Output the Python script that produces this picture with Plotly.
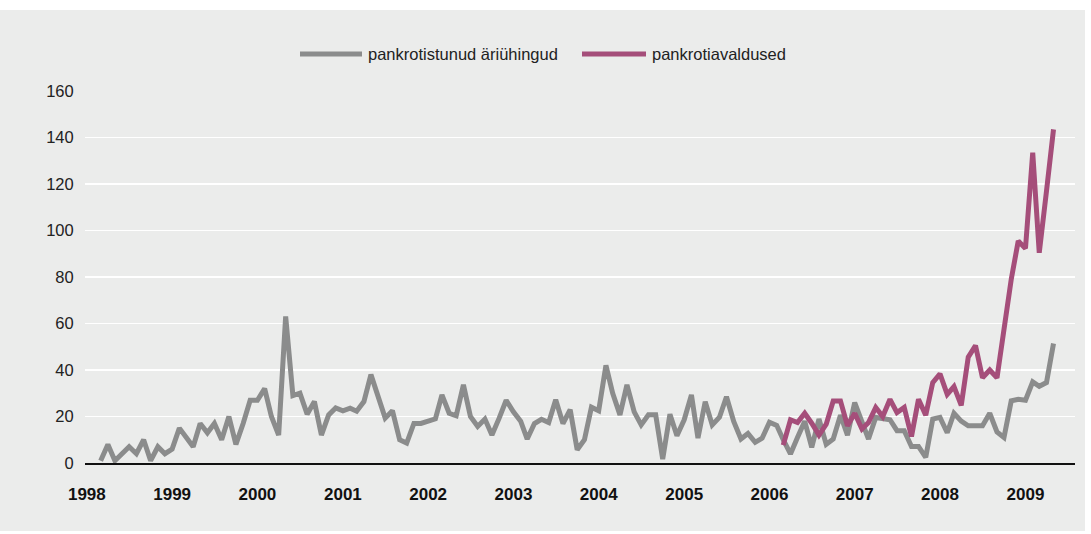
import pandas as pd
import plotly.graph_objects as go

# ---- data (monthly) ----
gray_start = "1998-03-01"
gray_values = [
    # 1998 Mar-Dec
    1, 8, 1, 4, 7, 4, 10, 1, 7, 4,
    # 1999
    6, 15, 11, 7, 17, 13, 17, 10, 20, 8, 17, 27,
    # 2000
    27, 32, 20, 12, 63, 29, 30, 21, 26.4, 12, 20.7, 23.7,
    # 2001
    22.4, 23.6, 22.3, 26.4, 38, 28, 19.3, 22.5, 10, 8.6, 17, 17,
    # 2002
    18, 19, 29.3, 21.4, 20.3, 33.6, 20, 15.7, 18.9, 12, 19.3, 27,
    # 2003
    22, 18, 10.3, 17, 18.8, 17.4, 27.2, 17, 22.9, 5.7, 10, 24,
    # 2004
    22.5, 42, 30, 20.7, 33.6, 22, 16.4, 20.7, 20.7, 1.7, 21, 11.7,
    # 2005
    18.6, 29.3, 10.7, 26.4, 16.4, 19.7, 28.5, 17.9, 10.3, 12.7, 8.9, 10.7,
    # 2006
    17.5, 16.2, 10, 3.9, 11, 18, 6.7, 18.9, 8, 10.3, 20.6, 12,
    # 2007
    26, 18, 10.3, 19.6, 19, 18.6, 13.9, 13.9, 7.1, 7.1, 2.4, 18.9,
    # 2008
    19.6, 13, 21.4, 18, 16, 16, 16, 21.4, 13.4, 11, 26.7, 27.4,
    # 2009 Jan-May
    27, 34.9, 33, 34.6, 51.4,
]

purple_start = "2006-03-01"
purple_values = [
    # 2006 Mar-Dec
    7.7, 18.6, 17.4, 21.4, 17.1, 12, 16.7, 26.7, 26.7, 16,
    # 2007
    21.4, 14.6, 17.4, 23.9, 20, 27.4, 21.7, 23.9, 11.4, 27.4, 20.6, 34.6,
    # 2008
    38.3, 29.5, 32.9, 24.8, 45.5, 50.5, 36.7, 40, 36.6, 57, 79, 95.5,
    # 2009 Jan-May
    92.3, 133.5, 90.4, 117, 143.5,
]

series_names = ["pankrotistunud äriühingud", "pankrotiavaldused"]
year_labels = [str(y) for y in range(1998, 2010)]
y_ticks = [0, 20, 40, 60, 80, 100, 120, 140, 160]

gray_x = pd.date_range(gray_start, periods=len(gray_values), freq="MS")
purple_x = pd.date_range(purple_start, periods=len(purple_values), freq="MS")

# ---- style ----
W, H = 1091, 534
L, R, T, B = 85, 16, 91, 71
GRAY = "#8b8c8c"
PURPLE = "#a54e7a"
BG = "#ebeceb"
FONT = "Liberation Sans, Arial, Helvetica, sans-serif"

pw, ph = W - L - R, H - T - B


def px_x(px):
    return (px - L) / pw


def px_y(py):
    return (H - B - py) / ph


fig = go.Figure()
fig.add_trace(go.Scatter(x=gray_x, y=gray_values, mode="lines", name=series_names[0],
                         line=dict(color=GRAY, width=5), showlegend=False))
fig.add_trace(go.Scatter(x=purple_x, y=purple_values, mode="lines", name=series_names[1],
                         line=dict(color=PURPLE, width=5), showlegend=False))

shapes = [
    dict(type="rect", xref="paper", yref="paper", x0=px_x(0), x1=px_x(1085),
         y0=px_y(531), y1=px_y(10), fillcolor=BG, line=dict(width=0), layer="below"),
    dict(type="line", xref="paper", yref="paper", x0=px_x(300), x1=px_x(362),
         y0=px_y(54), y1=px_y(54), line=dict(color=GRAY, width=5)),
    dict(type="line", xref="paper", yref="paper", x0=px_x(582), x1=px_x(646),
         y0=px_y(54), y1=px_y(54), line=dict(color=PURPLE, width=5)),
]
annotations = [
    dict(xref="paper", yref="paper", x=px_x(366), y=px_y(54), text=series_names[0],
         showarrow=False, xanchor="left", yanchor="middle",
         font=dict(family=FONT, size=16.5, color="#222222")),
    dict(xref="paper", yref="paper", x=px_x(650), y=px_y(54), text=series_names[1],
         showarrow=False, xanchor="left", yanchor="middle",
         font=dict(family=FONT, size=16.5, color="#222222")),
]

fig.update_layout(
    width=W, height=H,
    margin=dict(l=L, r=R, t=T, b=B),
    paper_bgcolor="white",
    plot_bgcolor="rgba(0,0,0,0)",
    font=dict(family=FONT, color="#222222"),
    shapes=shapes,
    annotations=annotations,
    showlegend=False,
    hovermode=False,
)
fig.update_xaxes(
    type="date",
    range=["1997-12-24", "2009-08-01"],
    tickvals=[f"{y}-01-01" for y in year_labels],
    ticktext=year_labels,
    tickfont=dict(family=FONT, size=17, color="#111111", weight="bold"),
    showgrid=False, zeroline=False,
    showline=True, linecolor="#111111", linewidth=1.5,
    ticks="outside", ticklen=15, tickcolor="rgba(0,0,0,0)",
)
fig.update_yaxes(
    range=[0, 160],
    tickvals=y_ticks,
    tickfont=dict(family=FONT, size=16.5, color="#222222"),
    showgrid=True, gridcolor="white", gridwidth=1.5,
    zeroline=False, showline=False,
    ticks="outside", ticklen=7, tickcolor="rgba(0,0,0,0)",
)

fig.write_html(
    "out.html",
    config={"displayModeBar": False, "staticPlot": True},
    post_script="document.body.style.margin='0';document.body.style.overflow='hidden';",
)
